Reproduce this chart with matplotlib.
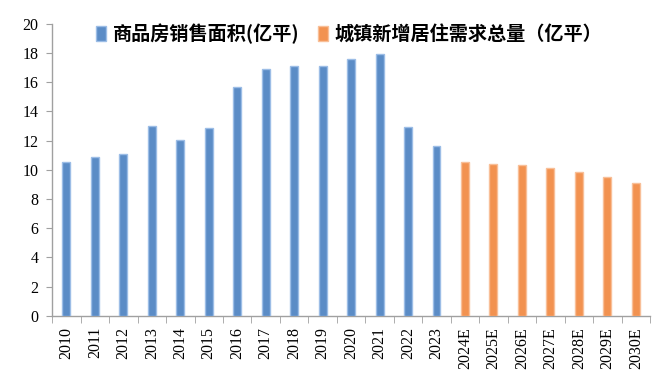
import matplotlib
matplotlib.use("Agg")
import matplotlib.pyplot as plt
import numpy as np

hist_years = ["2010", "2011", "2012", "2013", "2014", "2015", "2016", "2017",
              "2018", "2019", "2020", "2021", "2022", "2023"]
hist_vals = [10.5, 10.9, 11.1, 13.0, 12.05, 12.85, 15.7, 16.9, 17.1, 17.1,
             17.6, 17.95, 12.95, 11.6]
fc_years = ["2024E", "2025E", "2026E", "2027E", "2028E", "2029E", "2030E"]
fc_vals = [10.5, 10.4, 10.35, 10.1, 9.85, 9.5, 9.1]
legend_labels = ["商品房销售面积(亿平)", "城镇新增居住需求总量（亿平）"]
yticks = [0, 2, 4, 6, 8, 10, 12, 14, 16, 18, 20]

categories = hist_years + fc_years
x_hist = np.arange(len(hist_years))
x_fc = np.arange(len(hist_years), len(categories))

fig = plt.figure(figsize=(6.52, 3.76), dpi=100)
ax = fig.add_axes([0.080, 0.160, 0.917, 0.777])

blue = "#5b8cc6"
orange = "#f29250"
w = 0.28
ax.bar(x_hist, hist_vals, width=w, color=blue, edgecolor="#9cbde6", linewidth=1.0,
       label=legend_labels[0], zorder=3)
ax.bar(x_fc, fc_vals, width=w, color=orange, edgecolor="#f8bf98", linewidth=1.0,
       label=legend_labels[1], zorder=3)

ax.set_xlim(-0.5, len(categories) - 0.5)
ax.set_ylim(0, 20)
ax.set_yticks(yticks)
ax.set_yticklabels([str(v) for v in yticks], fontfamily="Liberation Serif", fontsize=11.5)
ax.set_xticks(np.arange(len(categories)))
ax.set_xticklabels(categories, rotation=90, fontfamily="Liberation Serif", fontsize=11.5)
ax.tick_params(axis="x", length=0, pad=8)
ax.set_xticks(np.arange(len(categories) + 1) - 0.5, minor=True)
ax.tick_params(axis="x", which="minor", length=5, color="#a0a0a0", direction="out")
ax.tick_params(axis="y", length=4, color="#a0a0a0", direction="out", pad=6)

for s in ["top", "right"]:
    ax.spines[s].set_visible(False)
for s in ["left", "bottom"]:
    ax.spines[s].set_color("#a0a0a0")
    ax.spines[s].set_linewidth(1.0)

leg = ax.legend(loc="upper center", bbox_to_anchor=(0.497, 1.06), ncol=2, frameon=False,
                prop={"family": ["Noto Sans CJK SC", "DejaVu Sans"], "size": 13.8, "weight": "bold"},
                handlelength=0.5, handleheight=0.8, handletextpad=0.35, columnspacing=1.0)

fig.savefig("out.png", dpi=100)
